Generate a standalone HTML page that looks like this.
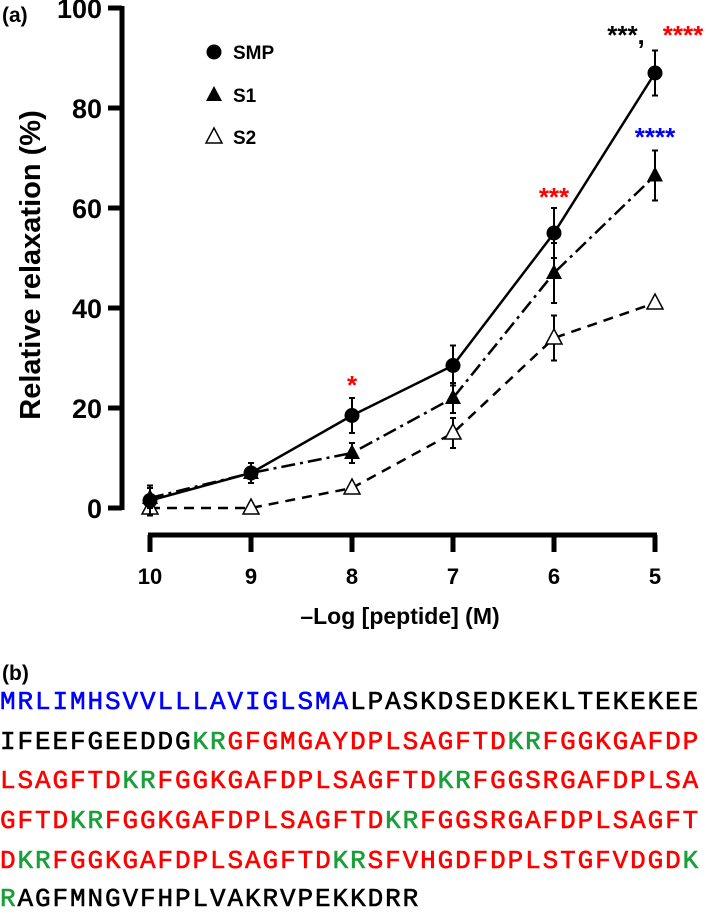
<!DOCTYPE html>
<html><head><meta charset="utf-8"><style>
body{margin:0;width:709px;height:910px;background:#fff;overflow:hidden;position:relative;font-family:"Liberation Sans",sans-serif}
.seq{position:absolute;left:0;font-family:"Liberation Mono",monospace;font-size:26px;letter-spacing:1.9px;white-space:nowrap;color:#000;line-height:26px;-webkit-text-stroke:0.6px currentColor}
.b{color:#0000ff}.r{color:#ff0000}.g{color:#1a9e3a}.k{color:#000}
</style></head><body>
<svg id="chart" width="709" height="650" style="position:absolute;left:0;top:0" font-family="Liberation Sans, sans-serif"></svg>
<div style="position:absolute;left:2px;top:662px;font-weight:bold;font-size:21px">(b)</div>
<div>
<div class="seq" style="top:689px"><span class="b">MRLIMHSVVLLLAVIGLSMA</span><span class="k">LPASKDSEDKEKLTEKEKEE</span></div>
<div class="seq" style="top:729px"><span class="k">IFEEFGEEDDG</span><span class="g">KR</span><span class="r">GFGMGAYDPLSAGFTD</span><span class="g">KR</span><span class="r">FGGKGAFDP</span></div>
<div class="seq" style="top:768px"><span class="r">LSAGFTD</span><span class="g">KR</span><span class="r">FGGKGAFDPLSAGFTD</span><span class="g">KR</span><span class="r">FGGSRGAFDPLSA</span></div>
<div class="seq" style="top:808px"><span class="r">GFTD</span><span class="g">KR</span><span class="r">FGGKGAFDPLSAGFTD</span><span class="g">KR</span><span class="r">FGGSRGAFDPLSAGFT</span></div>
<div class="seq" style="top:848px"><span class="r">D</span><span class="g">KR</span><span class="r">FGGKGAFDPLSAGFTD</span><span class="g">KR</span><span class="r">SFVHGDFDPLSTGFVDGD</span><span class="g">K</span></div>
<div class="seq" style="top:886px"><span class="g">R</span><span class="k">AGFMNGVFHPLVAKRVPEKKDRR</span></div>
</div>
<script>
const categories=[10,9,8,7,6,5];
const smpValues=[1.5,7,18.5,28.5,55,87];
const smpErr=[3,2,3.5,4,5,4.5];
const s1Values=[2,7,11,22,47,66.5];
const s1Err=[2,2,2,3,6,5];
const s2Values=[0,0,4,15,34,41];
const s2Err=[0,0,0,3,4.5,0];
const yTicks=[0,20,40,60,80,100];
const NS='http://www.w3.org/2000/svg';
const svg=document.getElementById('chart');
function X(c){return 150+(10-c)*101;}
function Y(v){return 508-v*5;}
function mk(tag,attrs,parent){const e=document.createElementNS(NS,tag);for(const k in attrs)e.setAttribute(k,attrs[k]);(parent||svg).appendChild(e);return e;}
let g;
g=mk('g',{});


mk('line',{x1:122,y1:Y(100)-2,x2:122,y2:Y(0)+2,stroke:'#000','stroke-width':5},g);
yTicks.forEach(t=>{
 mk('line',{x1:108,y1:Y(t),x2:122,y2:Y(t),stroke:'#000','stroke-width':5},g);
 const tx=mk('text',{x:102,y:Y(t)+10,'text-anchor':'end','font-size':27,'font-weight':'bold'},g);
 
 
 tx.textContent=t;
});
const yt=mk('text',{x:0,y:0,transform:'translate(40,265) rotate(-90)','text-anchor':'middle','font-size':29,'font-weight':'bold'});


yt.textContent='Relative relaxation (%)';
g=mk('g',{});


mk('line',{x1:X(10)-2,y1:535,x2:X(5)+2,y2:535,stroke:'#000','stroke-width':5},g);
categories.forEach(c=>{
 mk('line',{x1:X(c),y1:535,x2:X(c),y2:552,stroke:'#000','stroke-width':5},g);
 const tx=mk('text',{x:X(c),y:584,'text-anchor':'middle','font-size':22,'font-weight':'bold'},g);
 
 
 tx.textContent=c;
});
const xt=mk('text',{x:400,y:624,'text-anchor':'middle','font-size':23,'font-weight':'bold'});


xt.textContent='\u2013Log [peptide] (M)';
svg.insertAdjacentHTML('beforeend','<text x="2" y="22" font-size="21" font-weight="bold">(a)</text>');
function series(name,vals,errs,dash,marker){
 const gg=mk('g',{});
 
 
 const pts=categories.map((c,i)=>X(c)+','+Y(vals[i])).join(' ');
 mk('polyline',{points:pts,fill:'none',stroke:'#000','stroke-width':2.5,'stroke-dasharray':dash},gg);
 categories.forEach((c,i)=>{
  if(errs[i]>0){
   mk('line',{x1:X(c),y1:Y(vals[i]+errs[i]),x2:X(c),y2:Y(vals[i]-errs[i]),stroke:'#000','stroke-width':2},gg);
   mk('line',{x1:X(c)-3,y1:Y(vals[i]+errs[i]),x2:X(c)+3,y2:Y(vals[i]+errs[i]),stroke:'#000','stroke-width':2},gg);
   mk('line',{x1:X(c)-3,y1:Y(vals[i]-errs[i]),x2:X(c)+3,y2:Y(vals[i]-errs[i]),stroke:'#000','stroke-width':2},gg);
  }
  const m=marker(X(c),Y(vals[i]),gg);
  
  
 });
}
const circ=(x,y,p)=>mk('circle',{cx:x,cy:y,r:7.5,fill:'#000'},p);
const triF=(x,y,p)=>mk('polygon',{points:`${x},${y-9} ${x-8},${y+6} ${x+8},${y+6}`,fill:'#000'},p);
const triO=(x,y,p)=>mk('polygon',{points:`${x},${y-9} ${x-8},${y+6} ${x+8},${y+6}`,fill:'#fff',stroke:'#000','stroke-width':1.5},p);
series('s2-series',s2Values,s2Err,'10,7',triO);
series('s1-series',s1Values,s1Err,'14,5,3,5',triF);
series('smp-series',smpValues,smpErr,'',circ);
[['SMP',circ,52],['S1',triF,95],['S2',triO,137]].forEach(([t,f,y])=>{
 const lg=mk('g',{});
 
 
 f(214,y,lg);
 const tx=mk('text',{x:233,y:y+7,'font-size':19,'font-weight':'bold'},lg);
 tx.textContent=t;
});
function ann(x,y,t,col){const tx=mk('text',{x:x,y:y,'text-anchor':'middle','font-size':26,'font-weight':'bold',fill:col});
 
 
 tx.textContent=t;}
ann(626,44,'***,','#000');ann(683,44,'****','#ff0000');
ann(X(5),146,'****','#0000ff');
ann(X(6),206,'***','#ff0000');
ann(X(8),394,'*','#ff0000');
</script>
</body></html>
